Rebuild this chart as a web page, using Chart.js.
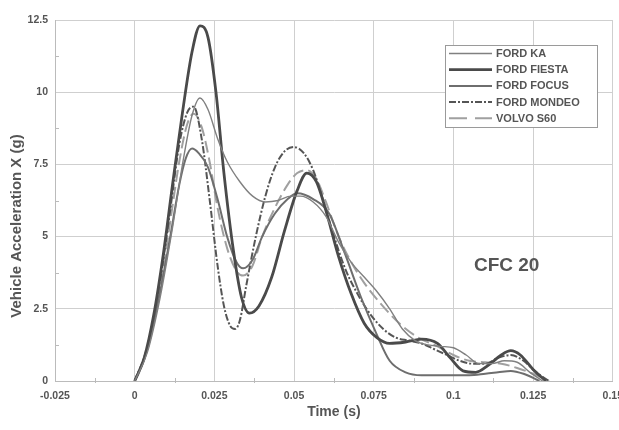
<!DOCTYPE html>
<html>
<head>
<meta charset="utf-8">
<script src="https://cdn.jsdelivr.net/npm/chart.js@4/dist/chart.umd.min.js"></script>
<style>
  html, body { margin: 0; padding: 0; background: #fff; overflow: hidden; }
  #wrap { width: 632px; height: 430px; }
</style>
</head>
<body>
<div id="wrap"><canvas id="crash" width="632" height="430"></canvas></div>
<script>
// Frontal crash pulses, filtered at CFC 20: time (s) vs vehicle acceleration (g)
const kaTime  = [0, .004, .008, .012, .015, .018, .0205, .023, .026, .029, .033, .037, .041, .045, .049, .052, .056, .060, .064, .068, .072, .076, .080, .084, .088, .092, .096, .100, .104, .108, .112, .116, .120, .124, .128]
const kaAccel = [0, 1.0, 2.9, 5.4, 7.5, 9.2, 9.8, 9.4, 8.4, 7.6, 6.9, 6.4, 6.2, 6.25, 6.4, 6.4, 6.2, 5.7, 4.8, 4.1, 3.6, 3.1, 2.5, 1.8, 1.4, 1.25, 1.2, 1.15, 0.9, 0.6, 0.6, 0.7, 0.65, 0.3, 0]

const fiestaTime  = [0, .003, .006, .009, .012, .015, .018, .0205, .023, .0255, .028, .031, .0335, .036, .039, .043, .047, .051, .054, .057, .060, .064, .068, .072, .076, .080, .085, .090, .095, .099, .103, .107, .111, .115, .118, .121, .125, .129]
const fiestaAccel = [0, 0.8, 2.3, 4.4, 6.9, 9.3, 11.4, 12.3, 11.9, 10.0, 7.2, 4.5, 2.9, 2.35, 2.6, 3.6, 5.2, 6.6, 7.2, 6.9, 5.9, 4.3, 3.0, 2.0, 1.5, 1.3, 1.35, 1.45, 1.3, 0.8, 0.35, 0.3, 0.55, 0.9, 1.05, 0.9, 0.4, 0]

const focusTime  = [0, .004, .008, .011, .014, .016, .018, .020, .023, .026, .029, .032, .034, .037, .040, .044, .048, .051, .056, .061, .066, .071, .076, .080, .085, .090, .095, .100, .105, .110, .114, .118, .122, .127]
const focusAccel = [0, 1.1, 3.1, 4.9, 6.8, 7.7, 8.05, 7.9, 7.4, 6.3, 5.0, 4.1, 3.9, 4.2, 5.0, 5.8, 6.3, 6.5, 6.3, 5.8, 4.4, 2.9, 1.6, 0.7, 0.3, 0.2, 0.2, 0.2, 0.2, 0.25, 0.3, 0.35, 0.25, 0]

const mondeoTime  = [0, .004, .008, .011, .014, .0165, .0185, .021, .0235, .026, .028, .030, .0315, .033, .035, .038, .041, .044, .047, .050, .053, .056, .059, .062, .066, .070, .074, .078, .082, .086, .090, .094, .098, .102, .106, .110, .114, .118, .122, .126, .130]
const mondeoAccel = [0, 1.2, 3.5, 5.8, 8.2, 9.3, 9.5, 8.4, 6.3, 4.0, 2.6, 1.9, 1.8, 2.1, 3.3, 5.0, 6.4, 7.4, 7.95, 8.1, 7.9, 7.3, 6.3, 5.2, 3.9, 3.0, 2.3, 1.8, 1.5, 1.4, 1.3, 1.1, 0.9, 0.7, 0.6, 0.6, 0.8, 0.9, 0.7, 0.3, 0]

const volvoTime  = [0, .004, .008, .011, .014, .0165, .0185, .021, .0235, .026, .029, .032, .034, .037, .040, .044, .048, .051, .054, .057, .060, .064, .068, .072, .077, .083, .089, .095, .100, .105, .110, .115, .120, .125, .130]
const volvoAccel = [0, 1.1, 3.2, 5.4, 7.6, 8.9, 9.25, 8.8, 7.6, 6.0, 4.6, 3.8, 3.65, 4.0, 5.0, 6.0, 6.8, 7.2, 7.3, 7.0, 6.2, 5.0, 4.1, 3.4, 2.7, 2.0, 1.5, 1.2, 0.9, 0.7, 0.65, 0.6, 0.45, 0.25, 0]

const xTicks = [-0.025, 0, 0.025, 0.05, 0.075, 0.1, 0.125, 0.15]
const yTicks = [0, 2.5, 5, 7.5, 10, 12.5]

const FONT = "'Liberation Sans', Arial, sans-serif"
const INK  = "#555"

const pts = (ts, gs) => ts.map((t, i) => ({ x: t, y: gs[i] }))

const series = [
  { label: "FORD KA",     data: pts(kaTime, kaAccel),         borderColor: "#808080", borderWidth: 1.4, borderDash: [] },
  { label: "FORD FIESTA", data: pts(fiestaTime, fiestaAccel), borderColor: "#4a4a4a", borderWidth: 2.8, borderDash: [] },
  { label: "FORD FOCUS",  data: pts(focusTime, focusAccel),   borderColor: "#6e6e6e", borderWidth: 2,   borderDash: [] },
  { label: "FORD MONDEO", data: pts(mondeoTime, mondeoAccel), borderColor: "#555555", borderWidth: 2,   borderDash: [7, 2, 2, 2] },
  { label: "VOLVO S60",   data: pts(volvoTime, volvoAccel),   borderColor: "#a0a0a0", borderWidth: 2,   borderDash: [12, 5] },
].map(s => ({ ...s, pointRadius: 0, fill: false, cubicInterpolationMode: "monotone" }))

// minor ticks, rotated y title, the boxed legend and the CFC note
const decorations = {
  id: "decorations",
  afterDraw(chart) {
    const { ctx, chartArea: a, scales: { x, y } } = chart
    ctx.save()
    ctx.strokeStyle = "#bbb"
    ctx.lineWidth = 1
    for (let v = 1.25; v < 12.5; v += 2.5) {
      const py = Math.round(y.getPixelForValue(v)) + 0.5
      ctx.beginPath(); ctx.moveTo(a.left, py); ctx.lineTo(a.left + 4, py); ctx.stroke()
    }
    for (let v = -0.0125; v < 0.15; v += 0.025) {
      const px = Math.round(x.getPixelForValue(v)) + 0.5
      ctx.beginPath(); ctx.moveTo(px, a.bottom - 3); ctx.lineTo(px, a.bottom + 2); ctx.stroke()
    }

    ctx.fillStyle = INK
    ctx.font = `bold 15px ${FONT}`
    ctx.textAlign = "center"
    ctx.textBaseline = "middle"
    ctx.translate(17, 226)
    ctx.rotate(-Math.PI / 2)
    ctx.fillText("Vehicle Acceleration X (g)", 0, 0)
    ctx.restore()

    ctx.save()
    ctx.fillStyle = INK
    ctx.font = `bold 19px ${FONT}`
    ctx.textAlign = "center"
    ctx.textBaseline = "middle"
    ctx.fillText("CFC 20", x.getPixelForValue(0.1167), y.getPixelForValue(4.0))

    const box = { l: 445, t: 45, w: 152, h: 82 }
    ctx.fillStyle = "#fff"
    ctx.fillRect(box.l, box.t, box.w, box.h)
    ctx.strokeStyle = "#9a9a9a"
    ctx.lineWidth = 1
    ctx.strokeRect(box.l + 0.5, box.t + 0.5, box.w, box.h)
    ctx.font = `bold 11px ${FONT}`
    ctx.textAlign = "left"
    chart.data.datasets.forEach((ds, i) => {
      const ry = box.t + 8.5 + i * 16.2
      ctx.strokeStyle = ds.borderColor
      ctx.lineWidth = ds.borderWidth
      ctx.setLineDash(ds.label === "VOLVO S60" ? [18, 8] : ds.borderDash)
      ctx.beginPath(); ctx.moveTo(box.l + 4, ry); ctx.lineTo(box.l + 47, ry); ctx.stroke()
      ctx.setLineDash([])
      ctx.fillStyle = INK
      ctx.fillText(ds.label, box.l + 51, ry + 0.5)
    })
    ctx.restore()
  },
}

new Chart(document.getElementById("crash"), {
  type: "line",
  data: { datasets: series },
  options: {
    responsive: false,
    animation: false,
    layout: { padding: { top: 20, left: 0, right: 0, bottom: 0 } },
    plugins: { legend: { display: false }, tooltip: { enabled: false } },
    scales: {
      x: {
        type: "linear",
        min: -0.025,
        max: 0.15,
        afterBuildTicks: (s) => { s.ticks = xTicks.map(v => ({ value: v })) },
        afterFit: (s) => { s.height = 49 },
        grid: { color: "#cfcfcf", drawTicks: false },
        border: { color: "#bbb" },
        ticks: {
          padding: 9,
          color: INK,
          font: { family: FONT, size: 10.5, weight: "bold" },
          maxRotation: 0,
          callback: (v) => String(+v.toFixed(3)),
        },
        title: {
          display: true,
          text: "Time (s)",
          color: INK,
          font: { family: FONT, size: 14, weight: "bold" },
          padding: { top: 0, bottom: 9 },
        },
      },
      y: {
        min: 0,
        max: 12.5,
        afterBuildTicks: (s) => { s.ticks = yTicks.map(v => ({ value: v })) },
        afterFit: (s) => { s.width = 55 },
        grid: { color: "#cfcfcf", drawTicks: false },
        border: { color: "#bbb" },
        ticks: {
          padding: 7,
          color: INK,
          font: { family: FONT, size: 10.5, weight: "bold" },
          callback: (v) => String(v),
        },
      },
    },
  },
  plugins: [decorations],
})
</script>
</body>
</html>
